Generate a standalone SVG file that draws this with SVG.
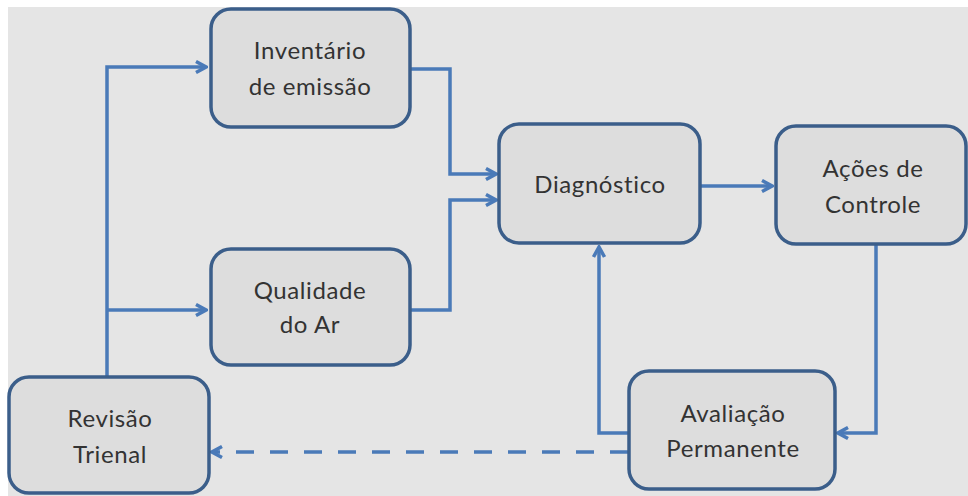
<svg xmlns="http://www.w3.org/2000/svg" width="968" height="496" viewBox="0 0 968 496">
<style>
.box{fill:#dddddd;stroke:#3b5e8a;stroke-width:3.5}
.lbl{font-family:Lato,"Open Sans","Liberation Sans",sans-serif;font-size:24px;letter-spacing:0.6px;fill:#333333;text-anchor:middle}
.c{fill:none;stroke:#4a7ab8;stroke-width:3.5}
.d{stroke-dasharray:18,16}
</style>
<defs>
<marker id="ah" viewBox="0 0 14 14" refX="12" refY="7" markerWidth="14" markerHeight="14" markerUnits="userSpaceOnUse" orient="auto">
<path d="M2,1.5 L12,7 L2,12.5" fill="none" stroke="#4a7ab8" stroke-width="3.5"/>
</marker>
</defs>
<rect x="0" y="0" width="968" height="496" fill="#ffffff"/>
<rect x="8" y="7" width="960" height="489" fill="#e5e5e5"/>
<g id="connectors">
<path class="c" d="M107,376 V67 H206" marker-end="url(#ah)"/>
<path class="c" d="M107,310 H206" marker-end="url(#ah)"/>
<path class="c" d="M410,69 H450 V174 H496" marker-end="url(#ah)"/>
<path class="c" d="M410,310 H450 V200 H496" marker-end="url(#ah)"/>
<path class="c" d="M700,186 H772" marker-end="url(#ah)"/>
<path class="c" d="M876,245 V433 H838" marker-end="url(#ah)"/>
<path class="c" d="M628,433 H599 V247" marker-end="url(#ah)"/>
<path class="c d" d="M628,452 H212" marker-end="url(#ah)"/>
</g>
<g id="inventario">
<rect class="box" x="211" y="9" width="199" height="118" rx="20"/>
<text class="lbl" x="310" y="59">Inventário</text>
<text class="lbl" x="310" y="95">de emissão</text>
</g>
<g id="qualidade">
<rect class="box" x="211" y="249" width="199" height="116" rx="20"/>
<text class="lbl" x="310" y="299">Qualidade</text>
<text class="lbl" x="310" y="333">do Ar</text>
</g>
<g id="revisao">
<rect class="box" x="9" y="377" width="200" height="116" rx="20"/>
<text class="lbl" x="110" y="427">Revisão</text>
<text class="lbl" x="110" y="463">Trienal</text>
</g>
<g id="diagnostico">
<rect class="box" x="499" y="124" width="201" height="119" rx="20"/>
<text class="lbl" x="600" y="193">Diagnóstico</text>
</g>
<g id="acoes">
<rect class="box" x="776" y="126" width="190" height="118" rx="20"/>
<text class="lbl" x="873" y="177">Ações de</text>
<text class="lbl" x="873" y="213">Controle</text>
</g>
<g id="avaliacao">
<rect class="box" x="629" y="371" width="206" height="118" rx="20"/>
<text class="lbl" x="733" y="422">Avaliação</text>
<text class="lbl" x="733" y="457">Permanente</text>
</g>
</svg>
